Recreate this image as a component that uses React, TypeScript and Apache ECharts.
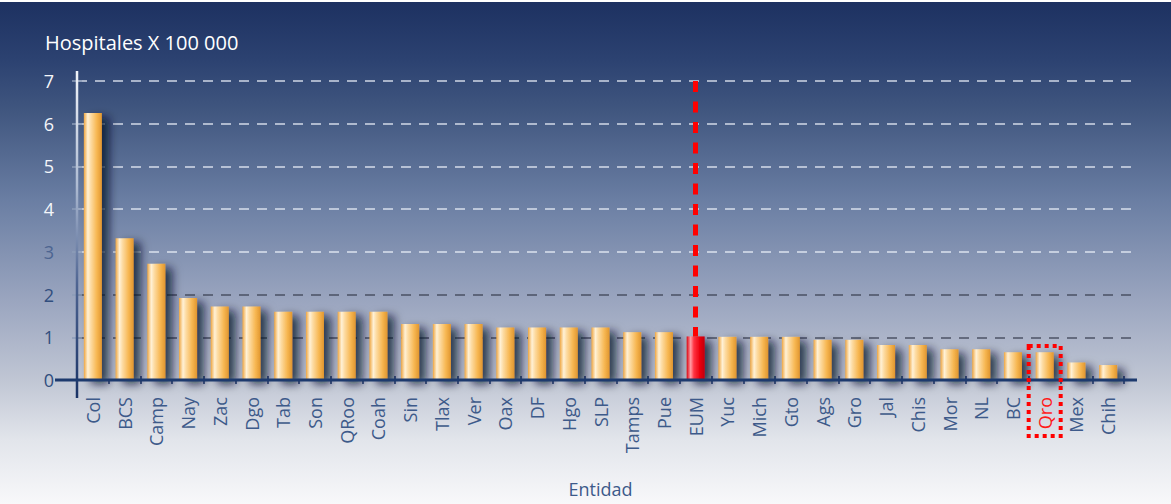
import React, { useEffect, useRef } from 'react';
import * as echarts from 'echarts';

const categories = ['Col', 'BCS', 'Camp', 'Nay', 'Zac', 'Dgo', 'Tab', 'Son', 'QRoo', 'Coah', 'Sin', 'Tlax', 'Ver', 'Oax', 'DF', 'Hgo', 'SLP', 'Tamps', 'Pue', 'EUM', 'Yuc', 'Mich', 'Gto', 'Ags', 'Gro', 'Jal', 'Chis', 'Mor', 'NL', 'BC', 'Qro', 'Mex', 'Chih'];
const values = [6.25, 3.32, 2.72, 1.92, 1.72, 1.72, 1.6, 1.6, 1.6, 1.6, 1.31, 1.31, 1.31, 1.23, 1.23, 1.23, 1.23, 1.12, 1.12, 1.02, 1.01, 1.01, 1.01, 0.94, 0.94, 0.82, 0.82, 0.72, 0.72, 0.65, 0.65, 0.41, 0.35];
const yTicks = [0, 1, 2, 3, 4, 5, 6, 7];
const averageCategory = 'EUM';
const highlightCategory = 'Qro';
const yTitle = 'Hospitales X 100 000';
const xTitle = 'Entidad';

export default function App() {
  const ref = useRef<HTMLDivElement>(null);
  useEffect(() => {
    document.body.style.margin = '0';
    const chart = echarts.init(ref.current!, null, { renderer: 'svg' });
    const font = "'Open Sans', sans-serif";
    const yMin = yTicks[0];
    const yMax = yTicks[yTicks.length - 1];
    const gridTop = 81;
    const gridHeight = 299;

    const goldGrad = new echarts.graphic.LinearGradient(0, 0, 1, 0, [
      { offset: 0, color: '#eea540' },
      { offset: 0.22, color: '#fff1d6' },
      { offset: 0.38, color: '#fddca4' },
      { offset: 0.72, color: '#f7b752' },
      { offset: 1, color: '#e0962f' },
    ]);
    const redGrad = new echarts.graphic.LinearGradient(0, 0, 1, 0, [
      { offset: 0, color: '#dc0010' },
      { offset: 0.22, color: '#ff9ca4' },
      { offset: 0.4, color: '#ff3442' },
      { offset: 0.72, color: '#ec0010' },
      { offset: 1, color: '#c0000c' },
    ]);

    const splitColors = yTicks.map((t) =>
      t === 0 ? 'rgba(0,0,0,0)' : t <= 2 ? 'rgba(60,66,84,0.85)' : 'rgba(235,240,248,0.85)'
    );
    const labelColor = (v: any) => {
      const n = Number(v);
      return n >= 4 ? '#f4f6fa' : n === 3 ? '#4d6591' : '#314e7e';
    };
    const avgIdx = categories.indexOf(averageCategory);

    const option: any = {
      animation: false,
      title: {
        text: yTitle,
        left: 40,
        top: 27,
        textStyle: { color: '#ffffff', fontSize: 20, fontWeight: 'normal', fontFamily: font },
      },
      grid: [
        { left: 77, top: gridTop, width: 1137 - 77, height: gridHeight },
        { left: 77, top: gridTop, width: 1124 - 77, height: gridHeight },
      ],
      xAxis: [
        { gridIndex: 0, type: 'value', min: 0, max: 1, show: false },
        {
          gridIndex: 1,
          type: 'category',
          data: categories,
          position: 'bottom',
          axisLine: { show: false },
          axisTick: { show: true, length: 4, lineStyle: { color: '#1d3a6e', width: 1.5 } },
          axisLabel: {
            interval: 0,
            rotate: 90,
            margin: 17,
            fontSize: 18,
            color: '#3d5a8a',
            fontFamily: font,
            formatter: (v: string) => (v === highlightCategory ? `{hl|${v}}` : v),
            rich: { hl: { color: '#ff1a1a', fontSize: 18, fontFamily: font } },
          },
          name: xTitle,
          nameLocation: 'middle',
          nameGap: 100,
          nameTextStyle: { color: '#3d5a8a', fontSize: 18, fontFamily: font },
        },
        {
          gridIndex: 1,
          type: 'category',
          data: categories,
          position: 'bottom',
          axisLine: { show: false },
          axisTick: { show: true, inside: true, length: 4, lineStyle: { color: '#1d3a6e', width: 1.5 } },
          axisLabel: { show: false },
        },
      ],
      yAxis: [
        {
          gridIndex: 0,
          type: 'value',
          min: yMin,
          max: yMax,
          interval: 1,
          axisLine: { show: false },
          axisTick: { show: true, length: 5, lineStyle: { color: '#8d9cb9', width: 1.5 } },
          axisLabel: { margin: 23, fontSize: 18, fontFamily: font, color: labelColor },
          splitLine: { show: true, lineStyle: { color: splitColors, width: 1.5, type: [10, 8] } },
        },
        {
          gridIndex: 1,
          type: 'value',
          min: yMin,
          max: yMax,
          interval: 1,
          axisLine: { show: false },
          axisTick: { show: true, inside: true, length: 5, lineStyle: { color: '#8d9cb9', width: 1.5 } },
          axisLabel: { show: false },
          splitLine: { show: false },
        },
      ],
      series: [
        {
          type: 'bar',
          xAxisIndex: 1,
          yAxisIndex: 1,
          barWidth: 18,
          data: values.map((v, i) =>
            categories[i] === averageCategory ? { value: v, itemStyle: { color: redGrad } } : v
          ),
          itemStyle: {
            color: goldGrad,
            shadowColor: 'rgba(5,12,40,0.75)',
            shadowBlur: 10,
            shadowOffsetX: 7,
            shadowOffsetY: 4,
          },
          markLine: {
            silent: true,
            symbol: ['none', 'none'],
            label: { show: false },
            lineStyle: { color: '#ff0000', width: 5, type: [11, 9.5] },
            data: [[{ coord: [averageCategory, yMax] }, { coord: [averageCategory, values[avgIdx]] }]],
          },
        },
      ],
    };
    chart.setOption(option);

    const y0 = chart.convertToPixel({ yAxisIndex: 0 }, 0) as number;
    const yTop = chart.convertToPixel({ yAxisIndex: 0 }, yMax) as number;
    const x0 = chart.convertToPixel({ xAxisIndex: 0 }, 0) as number;
    const xEnd = chart.convertToPixel({ xAxisIndex: 0 }, 1) as number;
    const qx = chart.convertToPixel({ xAxisIndex: 1 }, highlightCategory) as number;

    chart.setOption({
      graphic: [
        {
          type: 'rect',
          z: 50,
          shape: { x: x0 - 1.25, y: yTop - 10, width: 2.5, height: y0 - yTop + 28 },
          style: {
            fill: new echarts.graphic.LinearGradient(0, 0, 0, 1, [
              { offset: 0, color: '#f0f3f8' },
              { offset: 0.35, color: '#aebbd2' },
              { offset: 0.65, color: '#4f6592' },
              { offset: 1, color: '#1a3366' },
            ]),
          },
        },
        {
          type: 'rect',
          z: 50,
          shape: { x: x0 - 22, y: y0 - 1.5, width: xEnd - x0 + 22, height: 3 },
          style: { fill: '#1d3a6e' },
        },
        {
          type: 'rect',
          z: 50,
          shape: { x: qx - 16, y: y0 - 34, width: 32, height: 90 },
          style: { fill: 'none', stroke: '#ff0000', lineWidth: 4, lineDash: [4, 4] },
        },
      ],
    });

    return () => chart.dispose();
  }, []);
  return (
    <div
      ref={ref}
      style={{
        width: 1171,
        height: 504,
        background:
          'linear-gradient(to bottom, #ffffff 0px, #ffffff 2px, #1d3161 2px, #2c4271 60px, #40567f 110px, #6a7ea3 200px, #9aa5bf 300px, #c0c6d4 380px, #e2e5eb 440px, #f8f8fa 504px)',
      }}
    />
  );
}
